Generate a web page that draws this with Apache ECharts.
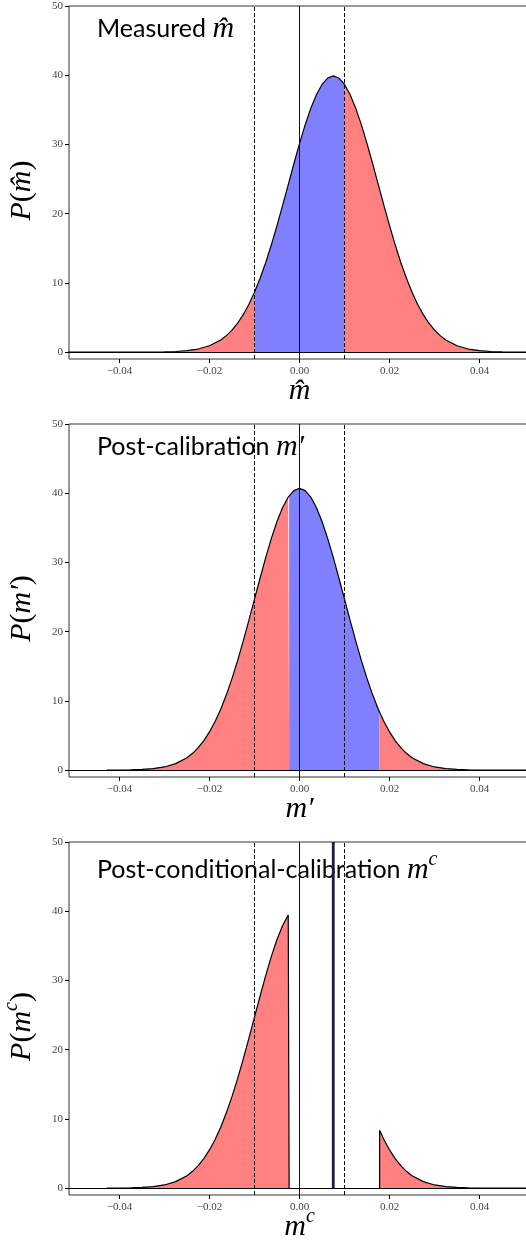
<!DOCTYPE html>
<html><head><meta charset="utf-8">
<script src="https://cdn.jsdelivr.net/npm/echarts@6/dist/echarts.min.js"></script>
<style>html,body{margin:0;padding:0;background:#fff}#c{width:526px;height:1246px}</style>
</head><body><div id="c"></div>
<script>
// ---- tick values / labels ----
const xTickValues = [-0.04, -0.02, 0, 0.02, 0.04];
const xTickLabels = ['\u22120.04', '\u22120.02', '0.00', '0.02', '0.04'];
const yTickValues = [0, 10, 20, 30, 40, 50];
const yTickLabels = ['0', '10', '20', '30', '40', '50'];

// ---- panel 1: measured m-hat density ----
const measuredX = [-0.0525,-0.05,-0.0475,-0.045,-0.0425,-0.04,-0.0375,-0.035,-0.0325,-0.03,-0.0275,-0.025,-0.0225,-0.02,
  -0.0175,-0.01625,-0.015,-0.01375,-0.0125,-0.01125,-0.01,-0.00875,-0.0075,-0.00625,-0.005,-0.00375,-0.0025,-0.00125,0,
  0.00125,0.0025,0.00375,0.005,0.00625,0.0075,0.00875,0.01,0.01125,0.0125,0.01375,0.015,0.01625,0.0175,0.01875,0.02,
  0.02125,0.0225,0.02375,0.025,0.02625,0.0275,0.02875,0.03,0.03125,0.0325,
  0.035,0.0375,0.04,0.0425,0.045,0.0475,0.05,0.0525];
const measuredP = [0,0,0,0,0.0001,0.0005,0.002,0.005,0.013,0.035,0.087,0.20,0.44,0.91,
  1.75,2.38,3.17,4.17,5.40,6.88,8.63,10.66,12.95,15.50,18.27,21.19,24.20,27.21,30.12,
  32.82,35.21,37.19,38.67,39.59,39.90,39.59,38.67,37.19,35.21,32.82,30.12,27.21,24.20,21.19,18.27,
  15.50,12.95,10.66,8.63,6.88,5.40,4.17,3.17,2.38,1.75,
  0.91,0.44,0.20,0.087,0.035,0.013,0.005,0.002];

// ---- panel 2: post-calibration m' density (panel 3 uses the same curve, cut) ----
const calibX = [-0.0428,-0.04,-0.0375,-0.035,-0.0325,-0.03,-0.0275,
  -0.025,-0.02375,-0.0225,-0.02125,-0.02,-0.01875,-0.0175,-0.01625,-0.015,-0.01375,-0.0125,-0.01125,-0.01,
  -0.00875,-0.0075,-0.00625,-0.005,-0.00375,-0.0025,-0.0023,-0.00125,0,0.00125,0.0025,0.00375,0.005,0.00625,
  0.0075,0.00875,0.01,0.01125,0.0125,0.01375,0.015,0.01625,0.0175,0.0178,0.01875,0.02,0.02125,0.0225,0.02375,0.025,
  0.0275,0.03,0.0325,0.035,0.0375,0.04,0.0425,0.045,0.0475,0.05,0.0525];
const calibP = [0.004,0.014,0.036,0.089,0.21,0.45,0.93,
  1.79,2.42,3.24,4.26,5.51,7.02,8.80,10.87,13.21,15.81,18.63,21.62,24.69,
  27.75,30.72,33.48,35.92,37.94,39.45,39.64,40.38,40.70,40.38,39.45,37.94,35.92,33.48,
  30.72,27.75,24.69,21.62,18.63,15.81,13.21,10.87,8.80,8.35,7.02,5.51,4.26,3.24,2.42,1.79,
  0.93,0.45,0.21,0.089,0.036,0.014,0.005,0.002,0.0005,0.0002,0];

const thresholds = [-0.01, 0.01];        // dashed lines
const measuredBand = [-0.01, 0.01];      // blue region, panel 1
const calibBand = [-0.0023, 0.0178];     // blue region panel 2 / removed region panel 3
const deltaX = 0.0075;                   // delta spike, panel 3

const RED = '#ff8080', BLUE = '#8080ff';
const X_MIN = -0.0512, X_MAX = 0.0512;

function pairs(xs, ys, lo, hi) {
  const out = [];
  for (let i = 0; i < xs.length; i++) if (xs[i] >= lo - 1e-9 && xs[i] <= hi + 1e-9) out.push([xs[i], ys[i]]);
  return out;
}
function fill(gi, data, color) {
  return { type: 'line', xAxisIndex: gi, yAxisIndex: gi, data, symbol: 'none', silent: true,
    lineStyle: { width: 0 }, areaStyle: { color, opacity: 1 }, z: 1, animation: false };
}
function curve(gi, data, withMarks) {
  const s = { type: 'line', xAxisIndex: gi, yAxisIndex: gi, data, symbol: 'none', silent: true,
    lineStyle: { color: '#000', width: 1.2 }, z: 3, animation: false };
  if (withMarks) {
    s.markLine = { symbol: ['none', 'none'], silent: true, animation: false, label: { show: false },
      emphasis: { disabled: true },
      data: [
        { xAxis: thresholds[0], lineStyle: { type: [4, 2], color: '#111', width: 1 } },
        { xAxis: 0, lineStyle: { type: 'solid', color: '#111', width: 1 } },
        { xAxis: thresholds[1], lineStyle: { type: [4, 2], color: '#111', width: 1 } },
        { yAxis: 0, lineStyle: { type: 'solid', color: '#000', width: 1.2 } }
      ] };
  }
  return s;
}

const tops = [6, 424, 842];
const H = 353;
const grids = tops.map(t => ({ left: 69, right: -4, top: t, height: H, show: true, containLabel: false,
  outerBoundsMode: 'none',
  borderColor: '#333', borderWidth: 1, backgroundColor: 'transparent' }));

const serif = 'Liberation Serif';
const mathRich = {
  i: { fontFamily: serif, fontStyle: 'italic', fontSize: 30, lineHeight: 40, color: '#000', verticalAlign: 'middle' },
  u: { fontFamily: serif, fontSize: 30, lineHeight: 40, color: '#000', verticalAlign: 'middle' },
  s: { fontFamily: serif, fontStyle: 'italic', fontSize: 20, lineHeight: 20, color: '#000', verticalAlign: 'top' },
  t: { fontFamily: 'Lato', fontSize: 25, lineHeight: 40, color: '#000', verticalAlign: 'middle' }
};
const xNames = ['{i|m\u0302}', '{i|m\u2032}', '{i|m}{s|c}'];
const yNames = ['{i|P}{u|(}{i|m\u0302}{u|)}', '{i|P}{u|(}{i|m\u2032}{u|)}', '{i|P}{u|(}{i|m}{s|c}{u|)}'];
const titles = ['{t|Measured }{i|m\u0302}', '{t|Post-calibration }{i|m\u2032}', '{t|Post-conditional-calibration }{i|m}{s|c}'];

function lab(vals, labs, v) {
  for (let i = 0; i < vals.length; i++) if (Math.abs(vals[i] - v) < 1e-9) return labs[i];
  return '';
}

const xAxes = [0, 1, 2].map(i => ({
  type: 'value', gridIndex: i, min: X_MIN, max: X_MAX, position: 'bottom',
  axisLine: { show: false, onZero: false },
  axisTick: { show: true, customValues: xTickValues, length: 4, lineStyle: { color: '#000', width: 1 } },
  axisLabel: { customValues: xTickValues, formatter: v => lab(xTickValues, xTickLabels, v), margin: 7,
    fontFamily: serif, fontSize: 11, color: '#444' },
  splitLine: { show: false },
  name: xNames[i], nameLocation: 'middle', nameGap: 12, nameMoveOverlap: false,
  nameTextStyle: { rich: mathRich, fontSize: 30, lineHeight: 40 }
}));
const yAxes = [0, 1, 2].map(i => ({
  type: 'value', gridIndex: i, min: -1, max: 50, position: 'left',
  axisLine: { show: false, onZero: false },
  axisTick: { show: true, customValues: yTickValues, length: 4, lineStyle: { color: '#000', width: 1 } },
  axisLabel: { customValues: yTickValues, formatter: v => lab(yTickValues, yTickLabels, v), margin: 6,
    fontFamily: serif, fontSize: 11, color: '#444' },
  splitLine: { show: false },
  name: yNames[i], nameLocation: 'middle', nameGap: 27, nameMoveOverlap: false,
  nameTextStyle: { rich: mathRich, fontSize: 30, lineHeight: 40, padding: [0, 16, 0, 0] }
}));

const series = [];
// panel 1
series.push(fill(0, pairs(measuredX, measuredP, -1, measuredBand[0]), RED));
series.push(fill(0, pairs(measuredX, measuredP, measuredBand[0], measuredBand[1]), BLUE));
series.push(fill(0, pairs(measuredX, measuredP, measuredBand[1], 1), RED));
series.push(curve(0, pairs(measuredX, measuredP, -1, 1), true));
// panel 2
series.push(fill(1, pairs(calibX, calibP, -1, calibBand[0]), RED));
series.push(fill(1, pairs(calibX, calibP, calibBand[0], calibBand[1]), BLUE));
series.push(fill(1, pairs(calibX, calibP, calibBand[1], 1), RED));
series.push(curve(1, pairs(calibX, calibP, -1, 1), true));
// panel 3
const leftPiece = pairs(calibX, calibP, -1, calibBand[0]).concat([[calibBand[0], 0]]);
const rightPiece = [[calibBand[1], 0]].concat(pairs(calibX, calibP, calibBand[1], 1));
series.push(fill(2, leftPiece, RED));
series.push(fill(2, rightPiece, RED));
series.push(curve(2, leftPiece, true));
series.push(curve(2, rightPiece, false));
series.push({ type: 'line', xAxisIndex: 2, yAxisIndex: 2, data: [[deltaX, 0], [deltaX, 50]], symbol: 'none',
  silent: true, lineStyle: { color: '#1c1c44', width: 2.8 }, z: 4, animation: false });

const graphic = titles.map((t, i) => ({
  type: 'text', left: 97, top: tops[i] + 8, z: 0, silent: true,
  style: { text: t, rich: mathRich, fill: '#000' }
}));

const chart = echarts.init(document.getElementById('c'), null, { renderer: 'canvas' });
chart.setOption({ animation: false, backgroundColor: '#fff', grid: grids, xAxis: xAxes, yAxis: yAxes, series, graphic });
</script></body></html>
